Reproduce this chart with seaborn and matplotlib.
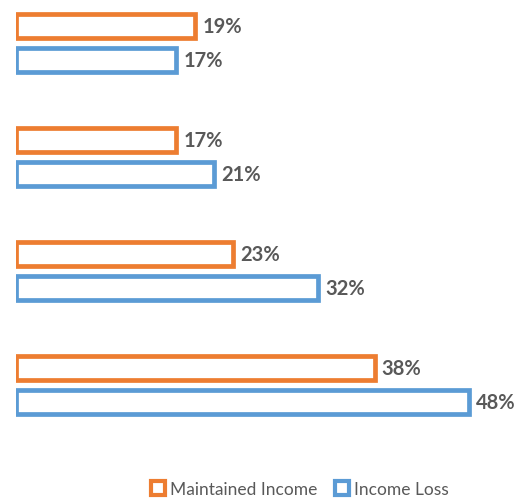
import matplotlib
matplotlib.use("Agg")
import matplotlib.pyplot as plt
from matplotlib.patches import Patch
import seaborn as sns
import pandas as pd

groups = ["Group 1", "Group 2", "Group 3", "Group 4"]
maintained_income = [19, 17, 23, 38]
income_loss = [17, 21, 32, 48]
series_names = ["Maintained Income", "Income Loss"]
colors = ["#ED7D31", "#5B9BD5"]

df = pd.DataFrame({
    "group": groups * 2,
    "value": maintained_income + income_loss,
    "series": [series_names[0]] * len(groups) + [series_names[1]] * len(groups),
})

sns.set_style("white")
plt.rcParams["font.family"] = ["Lato", "DejaVu Sans"]

fig = plt.figure(figsize=(5.21, 5.02), dpi=100)
W, H = 521, 502
ax_left, ax_right, ax_top, ax_bottom = 16, 505, 0, 440
ax = fig.add_axes([ax_left / W, 1 - ax_bottom / H,
                   (ax_right - ax_left) / W, (ax_bottom - ax_top) / H])

sns.barplot(data=df, x="value", y="group", hue="series", orient="h",
            palette=colors, fill=False, linewidth=3.4, width=0.6, gap=0.28,
            legend=False, ax=ax)

for container in ax.containers:
    ax.bar_label(container, fmt="%g%%", padding=5, color="#595959",
                 fontsize=14.5, fontweight="bold")

px_per_unit = 9.44
ax.set_xlim(0, (ax_right - ax_left) / px_per_unit)
ax.set_ylim(3 + (440 - 386) / 114, -44 / 114)
ax.set_axis_off()

handles = [Patch(facecolor="white", edgecolor=c, linewidth=3) for c in colors]
fig.legend(handles, series_names, loc="center", bbox_to_anchor=(0.576, 0.024),
           ncol=2, frameon=False, fontsize=12.5, labelcolor="#595959",
           handlelength=0.8, handleheight=0.9, handletextpad=0.3,
           columnspacing=1.0)

fig.savefig("out.png", dpi=100, facecolor="white")
